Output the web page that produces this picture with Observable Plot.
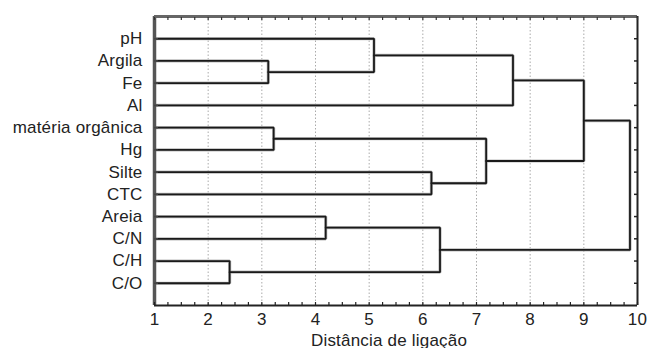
<!DOCTYPE html>
<html><head><meta charset="utf-8">
<script src="https://cdn.jsdelivr.net/npm/d3@7"></script>
<script src="https://cdn.jsdelivr.net/npm/@observablehq/plot@0.6"></script>
<style>
body{margin:0;background:#fff;}
#chart svg{font-family:"Liberation Sans",Arial,sans-serif;}
#chart text{letter-spacing:0.2px;}
</style></head><body><div id="chart"></div>
<script>
// Leaves, top to bottom
const variables = ["pH", "Argila", "Fe", "Al", "matéria orgânica", "Hg", "Silte", "CTC", "Areia", "C/N", "C/H", "C/O"];
// Merge steps (cluster k = "C" + (index+1))
const mergeLeft  = ["Argila", "pH", "C2", "matéria orgânica", "Silte", "C4", "C/H", "Areia", "C8", "C3", "C10"];
const mergeRight = ["Fe", "C1", "Al", "Hg", "CTC", "C5", "C/O", "C/N", "C7", "C6", "C9"];
const mergeDistance = [3.12, 5.09, 7.68, 3.22, 6.16, 7.18, 2.40, 4.19, 6.32, 9.00, 9.86];
// Axis ticks
const xTickValues = [1, 2, 3, 4, 5, 6, 7, 8, 9, 10];
const xGridValues = [2, 3, 4, 5, 6, 7, 8, 9];
const xMinorStep = 0.25;
const xLabel = "Distância de ligação";

const xMin = 1, xMax = 10;
const nodes = new Map();
variables.forEach((v, i) => nodes.set(v, {x: xMin, y: i + 1}));
const segments = [];
mergeDistance.forEach((h, k) => {
  const a = nodes.get(mergeLeft[k]), b = nodes.get(mergeRight[k]);
  const id = "C" + (k + 1);
  segments.push({id, x: a.x, y: a.y}, {id, x: h, y: a.y}, {id, x: h, y: b.y}, {id, x: b.x, y: b.y});
  nodes.set(id, {x: h, y: (a.y + b.y) / 2});
});
const minorTicks = d3.range(xMin, xMax + 1e-9, xMinorStep);
const rows = variables.map((v, i) => i + 1);
const yMax = variables.length + 1;

const chart = Plot.plot({
  width: 648, height: 348,
  marginLeft: 154, marginRight: 11, marginTop: 16, marginBottom: 43,
  style: {fontSize: "17px", color: "#222", background: "#fff"},
  x: {domain: [xMin, xMax]},
  y: {domain: [0, yMax], reverse: true},
  marks: [
    Plot.ruleX(xGridValues, {stroke: "#aaa", strokeWidth: 1, strokeDasharray: "1.5,2"}),
    Plot.line(segments, {x: "x", y: "y", z: "id", stroke: "#bbb", strokeWidth: 3.2, strokeLinejoin: "miter"}),
    Plot.line(segments, {x: "x", y: "y", z: "id", stroke: "#1a1a1a", strokeWidth: 1.8, strokeLinejoin: "miter"}),
    Plot.ruleX([xMin], {stroke: "#555", strokeWidth: 3.5}),
    Plot.ruleY([0], {stroke: "#666", strokeWidth: 3}),
    Plot.ruleX([xMax], {stroke: "#222", strokeWidth: 2}),
    Plot.ruleY([yMax], {stroke: "#222", strokeWidth: 2.2}),
    Plot.axisX(minorTicks, {anchor: "bottom", tickSize: 3, dy: -3, fill: "none", stroke: "#222", strokeWidth: 1.2, label: null}),
    Plot.axisX(minorTicks, {anchor: "top", tickSize: 3, dy: 3, fill: "none", stroke: "#333", strokeWidth: 1.2, label: null}),
    Plot.axisY(rows, {anchor: "right", tickSize: 4, dx: -4, fill: "none", stroke: "#222", strokeWidth: 1.5, label: null}),
    Plot.axisY(rows, {anchor: "left", tickSize: 4, dx: 4, fill: "none", stroke: "#444", strokeWidth: 1.5, label: null}),
    Plot.axisX(xTickValues, {anchor: "bottom", tickSize: 0, tickPadding: 7, fontSize: 17, fill: "#222", label: null}),
    Plot.text([xLabel], {frameAnchor: "bottom", dy: 40, dx: -7, lineAnchor: "bottom", fontSize: 17, fill: "#222"}),
    Plot.axisY(rows, {anchor: "left", tickSize: 0, tickPadding: 12, fontSize: 17, fill: "#222",
      tickFormat: i => variables[i - 1], label: null})
  ]
});
document.getElementById("chart").append(chart);
</script></body></html>
